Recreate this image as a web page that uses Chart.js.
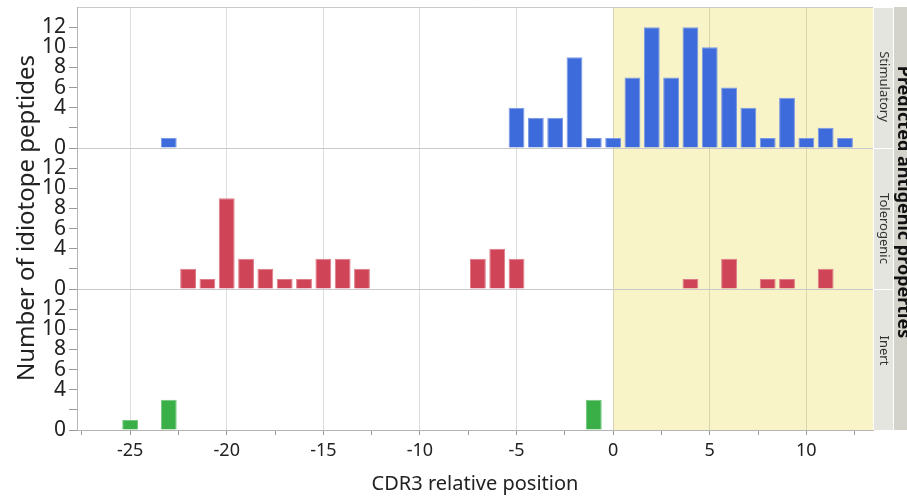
<!DOCTYPE html>
<html>
<head>
<meta charset="utf-8">
<script src="https://cdn.jsdelivr.net/npm/chart.js@4"></script>
<style>
  html, body { margin: 0; padding: 0; background: #fff; }
  #wrap { width: 907px; height: 496px; position: relative; }
</style>
</head>
<body>
<div id="wrap"><canvas id="chart"></canvas></div>
<script>
// panels of the grid, top to bottom
const panels = ['Stimulatory', 'Tolerogenic', 'Inert'];

const stimPos = [-23, -5, -4, -3, -2, -1, 0, 1, 2, 3, 4, 5, 6, 7, 8, 9, 10, 11, 12];
const stimCount = [1, 4, 3, 3, 9, 1, 1, 7, 12, 7, 12, 10, 6, 4, 1, 5, 1, 2, 1];

const tolPos = [-22, -21, -20, -19, -18, -17, -16, -15, -14, -13, -7, -6, -5, 4, 6, 8, 9, 11];
const tolCount = [2, 1, 9, 3, 2, 1, 1, 3, 3, 2, 3, 4, 3, 1, 3, 1, 1, 2];

const inertPos = [-25, -23, -1];
const inertCount = [1, 3, 3];

const yTickLabels = [0, 4, 6, 8, 10, 12];      // 2 gets a tick mark only
const xTickLabels = [-25, -20, -15, -10, -5, 0, 5, 10];

const FONT = "'Noto Sans', sans-serif";
Chart.defaults.font.family = FONT;
Chart.defaults.color = '#222';

const toPoints = (pos, counts) => pos.map((p, i) => ({ x: p, y: counts[i] }));

function panelAxis() {
  return {
    type: 'linear',
    position: 'left',
    stack: 'panels',
    stackWeight: 1,
    min: 0,
    max: 14,
    ticks: {
      stepSize: 2,
      padding: 3,
      autoSkip: false,
      font: { size: 21, lineHeight: 1 },
      callback: v => yTickLabels.includes(v) ? String(v) : ''
    },
    grid: {
      color: c => (c.tick && (c.tick.value === 0 || c.tick.value === 14)) ? '#c9c9c9' : 'transparent',
      tickColor: c => (c.tick && c.tick.value === 14) ? 'transparent' : '#999',
      tickLength: 8
    },
    border: { display: true, color: '#b5b5b5' },
    afterFit: s => { s.width = 77; s.paddingTop = 0; s.paddingBottom = 0; }
  };
}

const backdrop = {
  id: 'backdrop',
  beforeDraw(chart) {
    const { ctx, chartArea: a, scales } = chart;
    const x0 = scales.x.getPixelForValue(0);
    ctx.save();
    ctx.fillStyle = '#f8f4c8';
    ctx.fillRect(x0, a.top, a.right - x0, a.bottom - a.top);
    ctx.restore();
  },
  afterDraw(chart) {
    const { ctx, chartArea: a, scales } = chart;
    ctx.save();
    // outer strip
    ctx.fillStyle = '#d3d3cb';
    ctx.fillRect(a.right + 21, a.top, 907 - a.right - 21, a.bottom - a.top);
    // inner strips, one per panel
    const ids = ['yS', 'yT', 'yI'];
    const shift = [9, 10, -9];
    ids.forEach((id, i) => {
      const s = scales[id];
      ctx.fillStyle = '#e5e5e0';
      ctx.fillRect(a.right + 1, s.top + 1, 19, s.bottom - s.top - 1);
      ctx.save();
      ctx.translate(a.right + 11, (s.top + s.bottom) / 2 + shift[i]);
      ctx.rotate(Math.PI / 2);
      ctx.fillStyle = '#333';
      ctx.font = '13px ' + FONT;
      ctx.textAlign = 'center';
      ctx.textBaseline = 'middle';
      ctx.fillText(panels[i], 0, 0);
      ctx.restore();
    });
    // outer strip title, clipped by the canvas edge
    ctx.save();
    ctx.translate(898, 202);
    ctx.rotate(Math.PI / 2);
    ctx.fillStyle = '#111';
    ctx.font = 'bold 18px ' + FONT;
    ctx.textAlign = 'center';
    ctx.textBaseline = 'alphabetic';
    ctx.fillText('Predicted antigenic properties', 0, 0);
    ctx.restore();
    // shared y title
    ctx.save();
    ctx.translate(34, 218);
    ctx.rotate(-Math.PI / 2);
    ctx.fillStyle = '#222';
    ctx.font = '24px ' + FONT;
    ctx.textAlign = 'center';
    ctx.textBaseline = 'alphabetic';
    ctx.fillText('Number of idiotope peptides', 0, 0);
    ctx.restore();
    ctx.restore();
  }
};

const barStyle = { grouped: false, categoryPercentage: 1, barPercentage: 0.82, borderWidth: 1 };

new Chart(document.getElementById('chart'), {
  type: 'bar',
  data: {
    datasets: [
      Object.assign({ label: panels[0], data: toPoints(stimPos, stimCount), yAxisID: 'yS',
        backgroundColor: '#3e6bdc', borderColor: '#7c98e4' }, barStyle),
      Object.assign({ label: panels[1], data: toPoints(tolPos, tolCount), yAxisID: 'yT',
        backgroundColor: '#cf4557', borderColor: '#de7d89' }, barStyle),
      Object.assign({ label: panels[2], data: toPoints(inertPos, inertCount), yAxisID: 'yI',
        backgroundColor: '#3aaf48', borderColor: '#73c67d' }, barStyle)
    ]
  },
  options: {
    responsive: true,
    maintainAspectRatio: false,
    animation: false,
    layout: { padding: { top: 7, right: 34, left: 0, bottom: 0 } },
    plugins: { legend: { display: false }, tooltip: { enabled: false } },
    scales: {
      x: {
        type: 'linear',
        position: 'bottom',
        min: -27.75,
        max: 13.45,
        offset: false,
        ticks: {
          stepSize: 2.5,
          includeBounds: false,
          autoSkip: false,
          maxRotation: 0,
          padding: 5,
          font: { size: 18 },
          callback: v => xTickLabels.includes(v) ? String(v) : ''
        },
        grid: {
          offset: false,
          color: c => (c.tick && xTickLabels.includes(c.tick.value)) ? 'rgba(0,0,0,0.13)' : 'transparent',
          tickColor: '#999',
          tickLength: 5
        },
        border: { display: true, color: '#b5b5b5' },
        title: { display: true, text: 'CDR3 relative position', font: { size: 20 }, padding: { top: 2, bottom: 0 } },
        afterFit: s => { s.height = 66; }
      },
      yI: panelAxis(),
      yT: panelAxis(),
      yS: panelAxis()
    }
  },
  plugins: [backdrop]
});
</script>
</body>
</html>
